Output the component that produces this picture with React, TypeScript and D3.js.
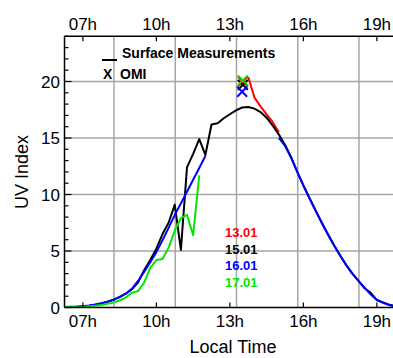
import React, { useEffect, useRef } from "react";
import * as d3 from "d3";

// local time, quarter hours
const hours = [
  6.25, 6.5, 6.75, 7.0, 7.25, 7.5, 7.75, 8.0, 8.25, 8.5, 8.75, 9.0, 9.25, 9.5,
  9.75, 10.0, 10.25, 10.5, 10.75, 11.0, 11.25, 11.5, 11.75, 12.0, 12.25, 12.5,
  12.75, 13.0, 13.25, 13.5, 13.75, 14.0, 14.25, 14.5, 14.75, 15.0, 15.25, 15.5,
  15.75, 16.0, 16.25, 16.5, 16.75, 17.0, 17.25, 17.5, 17.75, 18.0, 18.25, 18.5,
  18.75, 19.0, 19.25, 19.5, 19.75,
];

// 15.01 surface measurements
const uv1501 = [
  0.0, 0.02, 0.05, 0.1, 0.16, 0.25, 0.36, 0.5, 0.68, 0.92, 1.22, 1.62, 2.2, 3.3,
  4.2, 5.2, 6.5, 7.5, 9.1, 5.1, 12.4, 13.6, 14.9, 13.5, 16.2, 16.3, 16.75, 17.1,
  17.45, 17.7, 17.75, 17.6, 17.3, 16.8, 16.1, 15.3, 14.4, 13.3, 12.0, 10.8, 9.7,
  8.6, 7.5, 6.5, 5.5, 4.6, 3.75, 3.0, 2.35, 1.7, 1.3, 0.66, 0.45, 0.25, 0.12,
];

// 16.01 (gap around noon)
const uv1601 = [
  0.05, 0.06, 0.08, 0.12, 0.18, 0.27, 0.38, 0.52, 0.7, 0.93, 1.22, 1.65, 2.35,
  3.15, 4.0, 4.9, 5.95, 7.05, 8.2, 9.2, 10.25, 11.3, 12.35, 13.4, null, null,
  null, null, null, null, null, null, null, null, null, 15.0, 14.3, 13.25, 12.0,
  10.8, 9.65, 8.55, 7.5, 6.45, 5.5, 4.6, 3.75, 3.0, 2.35, 1.75, 1.15, 0.66,
  0.42, 0.22, 0.1,
];

// 17.01 (morning only)
const hours1701 = [
  6.25, 6.5, 6.75, 7.0, 7.25, 7.5, 7.75, 8.0, 8.25, 8.5, 8.75, 9.0, 9.25, 9.5,
  9.75, 10.0, 10.25, 10.5, 10.75, 11.0, 11.25, 11.5, 11.75,
];
const uv1701 = [
  0.02, 0.02, 0.03, 0.05, 0.1, 0.15, 0.22, 0.32, 0.45, 0.62, 0.88, 1.3, 1.45,
  2.2, 3.5, 4.2, 4.3, 5.3, 6.8, 7.9, 8.2, 6.4, 11.7,
];

// 13.01 (afternoon piece)
const hours1301 = [13.75, 14.0, 14.25, 14.5, 14.75, 15.0];
const uv1301 = [20.4, 18.6, 17.8, 17.1, 16.4, 15.5];

// OMI overpass
const omiDays = ["13.01", "15.01", "16.01", "17.01"];
const omiHours = [13.53, 13.53, 13.5, 13.53];
const omiUV = [20.0, 19.7, 19.1, 20.1];
const dayColors = ["#ff0000", "#000000", "#0000ff", "#00e600"];

const tickHours = [7, 10, 13, 16, 19];
const tickLabels = ["07h", "10h", "13h", "16h", "19h"];
const gridHours = [8.27, 10.77, 13.27, 15.77, 18.27];
const yMajor = [0, 5, 10, 15, 20];

const FONT = "'Liberation Sans', Arial, sans-serif";

export default function App() {
  const ref = useRef<SVGSVGElement>(null);

  useEffect(() => {
    const svg = d3.select(ref.current);
    svg.selectAll("*").remove();

    const left = 64.5,
      right = 395.25,
      top = 36.3,
      bottom = 307.5;

    const x = d3.scaleLinear().domain([6.25, 19.75]).range([left, right]);
    const y = d3.scaleLinear().domain([0, 24]).range([bottom, top]);

    svg
      .append("defs")
      .append("clipPath")
      .attr("id", "plot-clip")
      .append("rect")
      .attr("x", left)
      .attr("y", top)
      .attr("width", right - left)
      .attr("height", bottom - top);

    // grid
    const grid = svg.append("g").attr("stroke", "#a6a6a6").attr("stroke-width", 1.5);
    grid
      .selectAll("line.v")
      .data(gridHours)
      .join("line")
      .attr("x1", (d) => x(d))
      .attr("x2", (d) => x(d))
      .attr("y1", top)
      .attr("y2", bottom);
    grid
      .selectAll("line.h")
      .data(yMajor.slice(1))
      .join("line")
      .attr("x1", left)
      .attr("x2", right)
      .attr("y1", (d) => y(d))
      .attr("y2", (d) => y(d));

    const line = d3
      .line<[number, number | null]>()
      .defined((d) => d[1] != null)
      .x((d) => x(d[0]))
      .y((d) => y(d[1] as number));

    const series: [number[], (number | null)[], string][] = [
      [hours1301, uv1301, dayColors[0]],
      [hours, uv1501, dayColors[1]],
      [hours, uv1601, dayColors[2]],
      [hours1701, uv1701, dayColors[3]],
    ];

    const lines = svg.append("g").attr("clip-path", "url(#plot-clip)");
    series.forEach(([hs, vs, color]) => {
      lines
        .append("path")
        .attr("d", line(hs.map((h, i) => [h, vs[i]] as [number, number | null])))
        .attr("fill", "none")
        .attr("stroke", color)
        .attr("stroke-width", 2)
        .attr("stroke-linejoin", "round");
    });

    // OMI crosses
    lines
      .selectAll("path.omi")
      .data(omiDays)
      .join("path")
      .attr("transform", (d, i) => `translate(${x(omiHours[i])},${y(omiUV[i])})`)
      .attr("d", "M-5,-5L5,5M-5,5L5,-5")
      .attr("fill", "none")
      .attr("stroke", (d, i) => dayColors[i])
      .attr("stroke-width", 2);

    // frame
    const frame = svg.append("g").attr("stroke", "#000").attr("stroke-width", 1.5);
    frame.append("line").attr("x1", left).attr("x2", left).attr("y1", top).attr("y2", bottom);
    frame.append("line").attr("x1", left).attr("x2", right).attr("y1", top).attr("y2", top);
    frame.append("line").attr("x1", left).attr("x2", right).attr("y1", bottom).attr("y2", bottom);

    // x ticks, top and bottom
    const ticks = svg.append("g").attr("stroke", "#000").attr("stroke-width", 1.2);
    tickHours.forEach((h) => {
      ticks.append("line").attr("x1", x(h)).attr("x2", x(h)).attr("y1", top).attr("y2", top + 5);
      ticks.append("line").attr("x1", x(h)).attr("x2", x(h)).attr("y1", bottom).attr("y2", bottom - 5);
    });
    // y ticks
    d3.range(0, 25).forEach((v) => {
      const len = yMajor.includes(v) ? 7 : 4;
      ticks.append("line").attr("x1", left).attr("x2", left + len).attr("y1", y(v)).attr("y2", y(v));
    });

    const text = svg.append("g").attr("font-family", FONT).attr("fill", "#000");

    text
      .selectAll("text.top")
      .data(tickHours)
      .join("text")
      .attr("x", (d) => x(d))
      .attr("y", 30)
      .attr("text-anchor", "middle")
      .attr("font-size", 17)
      .text((d, i) => tickLabels[i]);
    text
      .selectAll("text.bottom")
      .data(tickHours)
      .join("text")
      .attr("x", (d) => x(d))
      .attr("y", 327)
      .attr("text-anchor", "middle")
      .attr("font-size", 17)
      .text((d, i) => tickLabels[i]);
    text
      .selectAll("text.ylab")
      .data(yMajor)
      .join("text")
      .attr("x", 60)
      .attr("y", (d) => y(d) + 6)
      .attr("text-anchor", "end")
      .attr("font-size", 17)
      .text((d) => d);

    text
      .append("text")
      .attr("transform", "translate(28,172) rotate(-90)")
      .attr("text-anchor", "middle")
      .attr("font-size", 18)
      .text("UV Index");
    text
      .append("text")
      .attr("x", 233)
      .attr("y", 353)
      .attr("text-anchor", "middle")
      .attr("font-size", 18)
      .text("Local Time");

    // legend
    svg
      .append("line")
      .attr("x1", 102)
      .attr("x2", 117)
      .attr("y1", 60)
      .attr("y2", 60)
      .attr("stroke", "#000")
      .attr("stroke-width", 2);
    const legend = text.append("g").attr("font-weight", "bold").attr("font-size", 14);
    legend.append("text").attr("x", 122).attr("y", 58).text("Surface Measurements");
    legend.append("text").attr("x", 103).attr("y", 79).text("X");
    legend.append("text").attr("x", 120).attr("y", 79).text("OMI");

    // day labels
    text
      .append("g")
      .attr("font-weight", "bold")
      .attr("font-size", 13)
      .selectAll("text")
      .data(omiDays)
      .join("text")
      .attr("x", 225)
      .attr("y", (d, i) => 237 + i * 16.5)
      .attr("fill", (d, i) => dayColors[i])
      .text((d) => d);
  }, []);

  return (
    <svg
      ref={ref}
      width={393}
      height={358}
      style={{ position: "absolute", left: 0, top: 0, background: "#fff" }}
    />
  );
}
